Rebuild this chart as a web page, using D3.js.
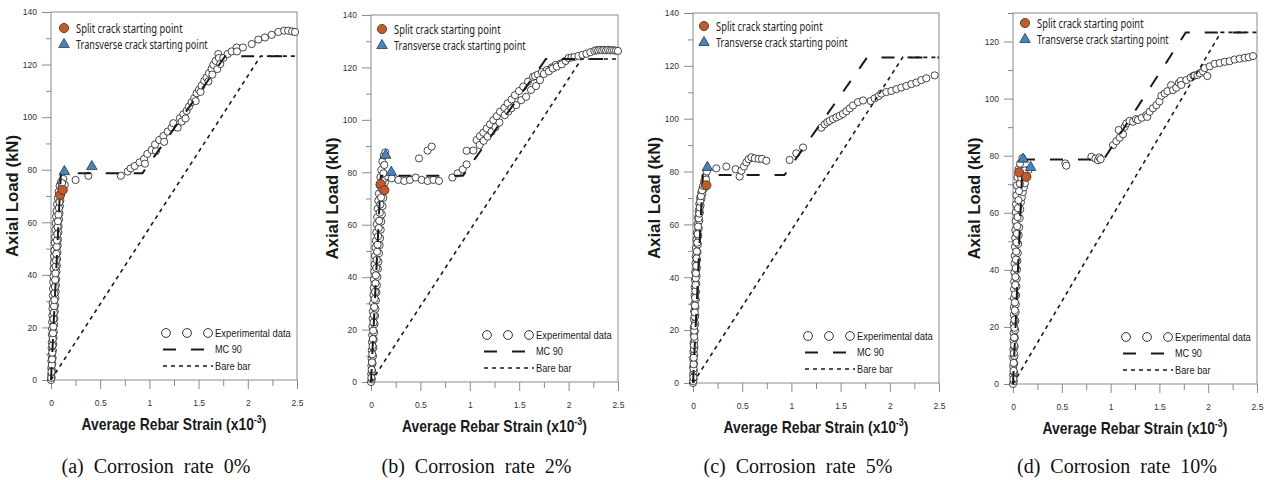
<!DOCTYPE html>
<html>
<head>
<meta charset="utf-8">
<script src="https://cdn.jsdelivr.net/npm/d3@7"></script>
<style>
  body { margin: 0; background: #fff; }
  svg { display: block; }
</style>
</head>
<body>
<svg id="chart" width="1269" height="480"></svg>
<script>
// ---- Tick values ----
const strainTicks = [0, 0.5, 1, 1.5, 2, 2.5];
const strainMinorTicks = [0.25, 0.75, 1.25, 1.75, 2.25];
const loadTicks140 = [0, 20, 40, 60, 80, 100, 120, 140];
const loadMinor140 = [10, 30, 50, 70, 90, 110, 130];
const loadTicks130 = [0, 20, 40, 60, 80, 100, 120];
const loadMinor130 = [10, 30, 50, 70, 90, 110, 130];

// ---- Captions ----
const captions = [
  "(a) Corrosion rate 0%",
  "(b) Corrosion rate 2%",
  "(c) Corrosion rate 5%",
  "(d) Corrosion rate 10%"
];

// ---- Model curves (strain x10^-3, load kN) ----
const mc90 = [[0, 0], [0.1, 78.7], [0.93, 78.7], [1.77, 123.2], [2.5, 123.2]];
const bareBar = [[0, 0], [2.13, 123.2], [2.5, 123.2]];

// ---- Experimental data: corrosion rate 0% ----
const expA = [
  [0,0],[0.002,2],[0.003,4.5],[0.004,7.2],[0.005,9.4],[0.007,12.1],[0.008,14.3],[0.009,17.2],[0.011,19.4],
  [0.012,22.1],[0.014,24.6],[0.015,27.2],[0.017,29.3],[0.019,32.1],[0.021,34.7],[0.023,37.2],[0.025,39.4],
  [0.027,42.3],[0.030,44.6],[0.032,47.1],[0.035,49.3],[0.038,52.2],[0.041,54.4],[0.045,57.1],[0.049,59.6],
  [0.052,62.2],[0.056,64.3],[0.062,66.8],[0.070,69.2],[0.078,71.6],[0.088,73.9],[0.102,75.4],[0.125,76.5],
  [0.006,1],[0.010,3.6],[0.013,6.1],[0.016,8.4],[0.020,11.2],[0.023,13.6],[0.026,16.1],[0.029,18.4],
  [0.032,21.2],[0.035,23.5],[0.038,26.1],[0.041,28.4],[0.044,31.2],[0.047,33.6],[0.050,36.1],[0.053,38.4],
  [0.056,41.2],[0.059,43.5],[0.062,46.1],[0.065,48.6],[0.068,51.1],[0.071,53.4],[0.075,56.2],[0.078,58.5],
  [0.082,61.1],[0.086,63.4],[0.090,66.2],[0.095,68.4],[0.101,71.1],[0.108,73.2],[0.122,74.6],[0.14,74.2],
  [0.003,0.8],[0.005,3.1],[0.008,5.7],[0.011,7.9],[0.013,10.4],[0.015,13.1],[0.018,15.6],[0.020,17.8],
  [0.024,20.3],[0.025,23.2],[0.029,25.6],[0.031,28.1],[0.034,30.4],[0.036,33.0],[0.040,35.4],[0.042,38.1],
  [0.045,40.6],[0.047,43.2],[0.051,45.5],[0.054,48.0],[0.057,50.7],[0.060,53.1],[0.064,55.5],[0.067,58.2],
  [0.071,60.4],[0.076,62.9],[0.081,65.4],[0.086,67.7],[0.094,70.3],[0.112,74.9],
  [0.25,76.1],[0.38,77.7],[0.71,77.7],[0.78,79.3],[0.81,80.5],[0.85,81.4],[0.90,82.8],[0.946,84.1],
  [0.955,82.3],[0.979,86],[1.023,87.5],[1.067,87.1],[1.057,89.6],[1.10,91.3],[1.142,92.8],[1.15,90.6],
  [1.186,94.5],[1.226,96],[1.243,97.7],[1.287,96],[1.311,99.6],[1.328,98.3],[1.345,101.1],[1.367,99.5],
  [1.379,102.4],[1.402,104],[1.429,105.7],[1.456,107.2],[1.47,106.1],[1.48,109.1],[1.504,110.4],[1.52,109.6],
  [1.531,112],[1.558,113.8],[1.581,115.1],[1.60,113.6],[1.605,116.7],[1.632,118.4],[1.64,116.2],[1.65,119.9],
  [1.673,121.4],[1.69,118.3],[1.70,124],[1.707,122.5],[1.72,120.2],[1.751,122.5],[1.795,124],[1.836,125],
  [1.887,126.5],[1.89,125],[1.95,126.5],[2.04,127.8],[2.107,129.5],[2.175,130.3],[2.243,131.3],[2.31,132.4],
  [2.37,132.9],[2.41,132.9],[2.45,132.6],[2.48,132.4]
];
const splitA = [[0.092,70.4],[0.119,72.3]];
const transA = [[0.136,79.3],[0.415,81.2]];

// ---- Experimental data: corrosion rate 2% ----
const expB = [
  [0,0],[0.002,3.1],[0.004,6.2],[0.006,8.9],[0.008,12.1],[0.010,15.2],[0.012,17.9],[0.014,21.1],[0.017,24.2],
  [0.019,26.9],[0.022,30.1],[0.025,33.2],[0.028,35.9],[0.031,39.1],[0.034,42.2],[0.037,44.9],[0.041,48.1],
  [0.045,51.2],[0.049,53.9],[0.053,57.1],[0.058,60.2],[0.063,62.9],[0.068,66.1],[0.074,69.2],[0.080,71.9],
  [0.087,75.1],[0.095,78.2],[0.104,80.9],[0.115,84.1],[0.13,86.4],[0.145,87.6],
  [0.008,1],[0.012,4.1],[0.016,7.2],[0.020,9.9],[0.024,13.1],[0.028,16.2],[0.032,18.9],[0.036,22.1],
  [0.041,25.2],[0.045,27.9],[0.050,31.1],[0.055,34.2],[0.060,36.9],[0.065,40.1],[0.070,43.2],[0.075,45.9],
  [0.081,49.1],[0.087,52.2],[0.092,54.9],[0.098,58.1],[0.104,61.2],[0.110,63.9],[0.117,67.1],[0.124,70.2],
  [0.132,72.9],[0.14,76.1],[0.15,78.4],
  [0.004,1.6],[0.007,4.7],[0.010,7.5],[0.013,10.6],[0.016,13.7],[0.019,16.4],[0.022,19.6],[0.026,22.7],
  [0.029,25.5],[0.033,28.6],[0.037,31.7],[0.041,34.4],[0.045,37.6],[0.049,40.7],[0.053,43.5],[0.058,46.6],
  [0.062,49.7],[0.067,52.4],[0.072,55.6],[0.078,58.7],[0.083,61.5],[0.089,64.6],[0.095,67.7],[0.102,70.4],
  [0.109,73.6],[0.118,76.6],[0.126,79.6],[0.135,82.8],
  [0.21,77.7],[0.277,77.1],[0.337,76.7],[0.395,77.1],[0.452,78],[0.486,85.3],[0.513,77.1],[0.573,76.7],
  [0.573,88.3],[0.614,89.8],[0.631,77.1],[0.688,76.7],[0.823,78],[0.877,79.6],[0.928,81.1],[0.968,83],
  [0.968,88.2],[1.036,88.3],
  [1.069,92.3],[1.103,93.8],[1.137,95.1],[1.171,96.7],[1.205,98.3],[1.238,99.9],[1.272,101.4],[1.306,103.1],
  [1.35,104.6],[1.383,106.3],[1.423,107.8],[1.457,109.4],[1.498,111],[1.541,112.7],[1.59,114.6],[1.64,116.4],
  [1.66,116.7],[1.69,117.3],[1.73,118.2],[1.78,119],[1.83,120],[1.87,121],[1.92,121.5],[1.96,122.3],
  [1.10,90.4],[1.14,92],[1.18,93.6],[1.22,95.5],[1.26,97.2],[1.30,99],[1.354,101.8],[1.39,103.2],
  [1.42,104.4],[1.47,105.6],[1.52,107.5],[1.57,108.8],[1.62,111.4],[1.67,112.9],[1.71,115.2],[1.75,117.5],
  [1.80,118.5],[1.84,119.6],[1.88,120.3],[1.93,121.2],[1.97,122.5],[2.0,123.6],[2.03,123.8],[2.06,124],
  [2.10,124.4],[2.14,124.8],[2.18,125.2],[2.22,125.8],[2.26,126.3],[2.28,126.6],[2.30,126.5],[2.32,126.7],
  [2.34,126.5],[2.36,126.7],[2.38,126.5],[2.40,126.7],[2.42,126.5],[2.44,126.6],[2.46,126.5],[2.48,126.4],
  [2.50,126.3]
];
const splitB = [[0.098,75.5],[0.135,73.2]];
const transB = [[0.148,86.5],[0.205,80]];

// ---- Experimental data: corrosion rate 5% ----
const expC = [
  [0,0],[0.001,3.2],[0.002,6.1],[0.003,8.8],[0.004,11.9],[0.005,15.1],[0.007,18.2],[0.008,20.9],[0.010,24.1],
  [0.012,27.2],[0.014,29.9],[0.016,33.1],[0.018,36.2],[0.020,38.9],[0.022,42.1],[0.025,45.2],[0.028,47.9],
  [0.031,51.1],[0.035,54.2],[0.040,56.9],[0.046,60.1],[0.051,62.6],[0.057,65.2],[0.064,67.8],[0.072,70.1],
  [0.085,72.2],[0.100,74.1],[0.113,76.2],[0.125,78.1],[0.14,80],
  [0.006,1.4],[0.008,4.6],[0.010,7.4],[0.012,10.6],[0.014,13.5],[0.016,16.4],[0.018,19.6],[0.021,22.5],
  [0.023,25.4],[0.025,28.6],[0.028,31.5],[0.030,34.4],[0.033,37.6],[0.036,40.5],[0.039,43.4],[0.042,46.6],
  [0.046,49.5],[0.050,52.4],[0.054,55.6],[0.059,58.5],[0.064,61.4],[0.070,64.6],[0.077,67.2],[0.086,69.8],
  [0.095,71.6],[0.108,73.4],[0.12,75.1],[0.133,77],
  [0.003,0.7],[0.004,2.1],[0.005,5.4],[0.006,7.1],[0.007,9.6],[0.009,12.8],[0.010,14.3],[0.012,17.5],
  [0.013,19.8],[0.015,21.6],[0.017,25.1],[0.018,26.7],[0.020,29.3],[0.022,32.2],[0.024,34.8],[0.026,37.1],
  [0.028,39.7],[0.030,41.5],[0.033,44.3],[0.036,47.2],[0.039,49.8],[0.043,53.1],[0.047,56.3],[0.052,59.2],
  [0.058,62.3],[0.063,64.1],[0.069,66.4],[0.074,68.6],[0.081,70.7],[0.092,72.9],[0.104,74.6],
  [0.237,81.2],[0.339,81.9],[0.433,80.9],[0.474,78.1],[0.491,80.3],[0.518,81.9],[0.542,83.5],[0.565,84.7],
  [0.593,85.4],[0.627,85],[0.667,84.8],[0.701,84.8],[0.745,84.1],
  [0.982,84.4],[1.05,86.9],[1.118,89.1],[1.304,96.6],[1.338,97.9],[1.365,98.7],[1.389,99.2],[1.423,99.9],
  [1.457,100.5],[1.49,101.1],[1.524,101.8],[1.558,102.8],[1.592,103.9],[1.626,105],[1.677,106.3],
  [1.728,106.9],[1.806,106.7],[1.846,107.7],[1.887,108.6],[1.914,109.5],[1.965,110.1],[2.016,110.5],
  [2.067,111.2],[2.117,111.8],[2.168,112.4],[2.219,113.1],[2.27,113.7],[2.32,114.6],[2.371,115.3],[2.456,116.4]
];
const splitC = [[0.136,74.8]];
const transC = [[0.146,81.6]];

// ---- Experimental data: corrosion rate 10% ----
const expD = [
  [0,0],[0.001,3.1],[0.002,6.2],[0.003,8.9],[0.004,12.1],[0.005,15.2],[0.006,17.9],[0.007,21.1],[0.008,24.2],
  [0.009,26.9],[0.010,30.1],[0.011,33.2],[0.012,35.9],[0.014,39.1],[0.016,42.2],[0.018,44.9],[0.020,48.1],
  [0.022,51.2],[0.024,53.9],[0.027,57.1],[0.029,60.2],[0.032,62.9],[0.035,66.1],[0.040,69.6],[0.047,72.4],
  [0.058,75.3],[0.072,77.2],[0.095,79.1],
  [0.008,1],[0.011,4.1],[0.013,7.2],[0.015,9.9],[0.017,13.1],[0.019,16.2],[0.022,18.9],[0.024,22.1],
  [0.027,25.2],[0.029,27.9],[0.032,31.1],[0.035,34.2],[0.038,36.9],[0.041,40.1],[0.045,43.2],[0.049,45.9],
  [0.053,49.1],[0.058,52.2],[0.063,54.9],[0.068,58.1],[0.074,61.2],[0.081,63.7],[0.090,65.4],[0.100,67.2],
  [0.112,68.9],[0.122,70.3],[0.14,72.8],[0.16,75.1],
  [0.004,1.7],[0.006,4.6],[0.007,7.4],[0.009,10.8],[0.011,13.6],[0.012,16.3],[0.014,19.7],[0.016,22.5],
  [0.018,25.8],[0.019,28.6],[0.021,31.4],[0.023,34.7],[0.025,37.5],[0.028,40.6],[0.030,43.6],[0.033,46.4],
  [0.036,49.6],[0.040,52.7],[0.043,55.3],[0.047,58.5],[0.051,61.6],[0.056,64.4],[0.062,67.6],[0.071,70.2],
  [0.083,72.3],[0.097,73.9],[0.118,74.8],
  [0.536,77.3],[0.546,76.5],[0.803,79.6],[0.844,79],[0.871,78.4],[0.885,79.4],[0.898,78.8],
  [1.025,83.7],[1.059,85.1],[1.083,89],[1.093,86.3],[1.127,87.5],[1.144,90.1],[1.161,91.3],[1.195,92.2],
  [1.23,91.9],[1.26,92.8],[1.28,92.5],[1.32,93.3],[1.366,94.2],[1.375,93.6],[1.40,95.4],[1.434,96.6],
  [1.469,97.7],[1.50,99],[1.52,101],[1.554,101.8],[1.582,102.6],[1.62,104.7],[1.64,103],[1.673,103.8],
  [1.70,105.5],[1.717,106.2],[1.724,104.8],[1.776,106.5],[1.82,107.4],[1.85,108],[1.861,108.1],[1.89,108.3],
  [1.912,108.9],[1.947,109.5],[1.964,110.7],[1.991,107.9],[2.016,111.3],[2.067,112.2],[2.118,112.5],
  [2.169,112.9],[2.22,113.1],[2.271,113.7],[2.322,114],[2.374,114.3],[2.415,114.5],[2.459,114.9]
];
const splitD = [[0.062,74.2],[0.137,72.6]];
const transD = [[0.104,78.8],[0.181,75.9]];

// ---- Panel frames (pixel boxes) and per-panel series ----
const layout = [
  { left: 51,   right: 297,  top: 12, bottom: 380, yMax: 140, leg: [13, 16] },
  { left: 371,  right: 618,  top: 15, bottom: 382, yMax: 140, leg: [11, 14] },
  { left: 693,  right: 939,  top: 13, bottom: 383, yMax: 140, leg: [11, 13] },
  { left: 1013, right: 1257, top: 13, bottom: 384, yMax: 130, leg: [12, 10] }
];
const series = [
  { exp: expA, split: splitA, trans: transA, ticks: loadTicks140, minor: loadMinor140 },
  { exp: expB, split: splitB, trans: transB, ticks: loadTicks140, minor: loadMinor140 },
  { exp: expC, split: splitC, trans: transC, ticks: loadTicks140, minor: loadMinor140 },
  { exp: expD, split: splitD, trans: transD, ticks: loadTicks130, minor: loadMinor130 }
];

const AXIS = "#8a8a8a";
const INK = "#1a1a1a";
const ORANGE = "#c65a24";
const BLUE = "#3f86c8";

const svg = d3.select("#chart");

// squeeze a text element horizontally to a target width
function fitWidth(textSel, w) {
  const bw = textSel.node().getBBox().width;
  textSel.attr("transform", `scale(${w / bw},1)`);
}

function label(parent, x, y, str, opts) {
  const g = parent.append("g").attr("transform", `translate(${x},${y})` + (opts.rotate ? ` rotate(${opts.rotate})` : ""));
  const t = g.append("text")
    .attr("text-anchor", opts.anchor || "start")
    .attr("font-family", opts.family)
    .attr("font-size", opts.size)
    .attr("font-weight", opts.weight || "normal")
    .attr("fill", opts.fill || INK)
    .text(str);
  if (opts.width) fitWidth(t, opts.width);
  return t;
}

layout.forEach((L, i) => {
  const S = series[i];
  const x = d3.scaleLinear().domain([0, 2.5]).range([L.left, L.right]);
  const y = d3.scaleLinear().domain([0, L.yMax]).range([L.bottom, L.top]);
  const g = svg.append("g");

  // axes: minor ticks, then major ticks with labels
  const styleAxis = s => {
    s.attr("color", AXIS);
    s.select(".domain").remove();
    s.selectAll("text").attr("fill", "#333").attr("font-family", "Liberation Sans, Arial, sans-serif").attr("font-size", 8.5);
  };
  g.append("g").attr("transform", `translate(${L.left},0)`)
    .call(d3.axisLeft(y).tickValues(S.minor).tickSize(5).tickFormat("")).call(styleAxis);
  g.append("g").attr("transform", `translate(${L.left},0)`)
    .call(d3.axisLeft(y).tickValues(S.ticks).tickSize(9).tickPadding(5).tickFormat(d3.format("d"))).call(styleAxis);
  g.append("g").attr("transform", `translate(0,${L.bottom})`)
    .call(d3.axisBottom(x).tickValues(strainMinorTicks).tickSize(6).tickFormat("")).call(styleAxis);
  g.append("g").attr("transform", `translate(0,${L.bottom})`)
    .call(d3.axisBottom(x).tickValues(strainTicks).tickSize(9).tickPadding(11).tickFormat(d => d3.format("")(d))).call(styleAxis);

  // frame
  g.append("rect")
    .attr("x", L.left).attr("y", L.top)
    .attr("width", L.right - L.left).attr("height", L.bottom - L.top)
    .attr("fill", "none").attr("stroke", AXIS).attr("stroke-width", 1);

  // experimental points
  g.append("g").selectAll("circle").data(S.exp).join("circle")
    .attr("cx", d => x(d[0])).attr("cy", d => y(d[1])).attr("r", 3.6)
    .attr("fill", "#fff").attr("stroke", INK).attr("stroke-width", 0.8);

  const line = d3.line().x(d => x(d[0])).y(d => y(d[1]));
  g.append("path").datum(bareBar).attr("d", line)
    .attr("fill", "none").attr("stroke", INK).attr("stroke-width", 1.6).attr("stroke-dasharray", "4,4");
  g.append("path").datum(mc90).attr("d", line)
    .attr("fill", "none").attr("stroke", INK).attr("stroke-width", 2).attr("stroke-dasharray", "13,15");

  // crack markers
  g.append("g").selectAll("circle").data(S.split).join("circle")
    .attr("cx", d => x(d[0])).attr("cy", d => y(d[1])).attr("r", 4.6)
    .attr("fill", ORANGE).attr("stroke", "#333").attr("stroke-width", 0.8);
  const tri = d3.symbol(d3.symbolTriangle).size(48);
  g.append("g").selectAll("path").data(S.trans).join("path")
    .attr("d", tri).attr("transform", d => `translate(${x(d[0])},${y(d[1])})`)
    .attr("fill", BLUE).attr("stroke", "#333").attr("stroke-width", 0.8);

  // top-left legend
  const mx = L.left + L.leg[0], my = L.top + L.leg[1];
  g.append("circle").attr("cx", mx).attr("cy", my).attr("r", 4.6)
    .attr("fill", ORANGE).attr("stroke", "#333").attr("stroke-width", 0.8);
  g.append("path").attr("d", tri).attr("transform", `translate(${mx},${my + 16.5})`)
    .attr("fill", BLUE).attr("stroke", "#333").attr("stroke-width", 0.8);
  const legFont = "Noto Sans, Open Sans, sans-serif";
  label(g, mx + 12, my + 4.5, "Split crack starting point", { family: legFont, size: 12.5, width: 107, fill: "#222" });
  label(g, mx + 12, my + 21, "Transverse crack starting point", { family: legFont, size: 12.5, width: 132, fill: "#222" });

  // bottom-right legend
  const lx = L.right - 82, ly = L.bottom - 47;
  [-49, -28, -7].forEach(dx => {
    g.append("circle").attr("cx", lx + dx).attr("cy", ly).attr("r", 4.4)
      .attr("fill", "#fff").attr("stroke", INK).attr("stroke-width", 0.9);
  });
  g.append("line").attr("x1", lx - 52).attr("x2", lx - 11).attr("y1", ly + 16.5).attr("y2", ly + 16.5)
    .attr("stroke", INK).attr("stroke-width", 2).attr("stroke-dasharray", "13,15");
  g.append("line").attr("x1", lx - 52).attr("x2", lx - 2).attr("y1", ly + 33).attr("y2", ly + 33)
    .attr("stroke", INK).attr("stroke-width", 1.6).attr("stroke-dasharray", "4,4");
  const smallFont = "Liberation Sans, Arial, sans-serif";
  label(g, lx, ly + 3.8, "Experimental data", { family: smallFont, size: 10.5, width: 76 });
  label(g, lx, ly + 20.3, "MC 90", { family: smallFont, size: 10.5, width: 27 });
  label(g, lx, ly + 36.8, "Bare bar", { family: smallFont, size: 10.5, width: 36 });

  // axis titles
  const cx = (L.left + L.right) / 2;
  const xt = g.append("g").attr("transform", `translate(${cx},${L.bottom + 50})`)
    .append("text").attr("text-anchor", "middle")
    .attr("font-family", "Liberation Sans, Arial, sans-serif").attr("font-size", 17).attr("font-weight", "bold").attr("fill", INK);
  xt.append("tspan").text("Average Rebar Strain (x10");
  xt.append("tspan").attr("font-size", 11).attr("dy", -7).text("-3");
  xt.append("tspan").attr("dy", 7).text(")");
  fitWidth(xt, 185);

  label(g, L.left - 33, (L.top + L.bottom) / 2, "Axial Load (kN)", {
    family: "Liberation Sans, Arial, sans-serif", size: 17, weight: "bold", anchor: "middle", rotate: -90, width: 122
  });

  // caption
  g.append("text").attr("x", cx - 18).attr("y", 473).attr("text-anchor", "middle")
    .attr("font-family", "Liberation Serif, Times New Roman, serif").attr("font-size", 20)
    .attr("word-spacing", 5).attr("fill", "#111").text(captions[i]);
});
</script>
</body>
</html>
